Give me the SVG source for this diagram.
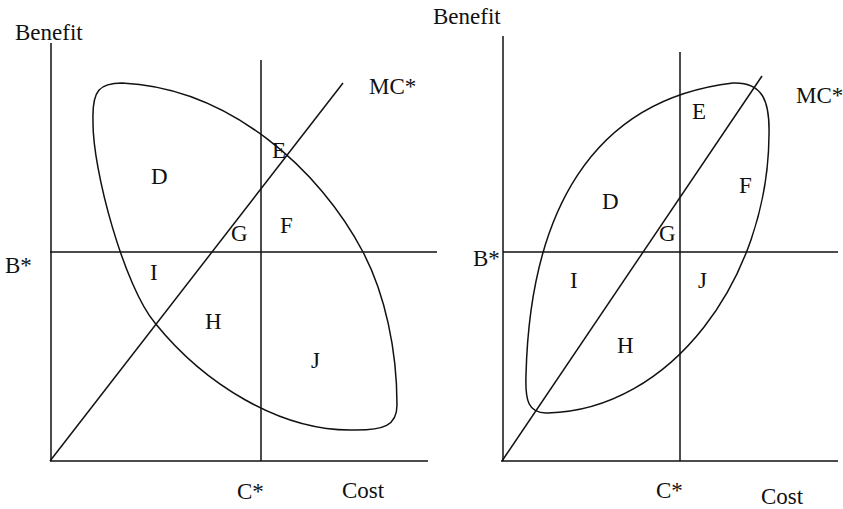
<svg xmlns="http://www.w3.org/2000/svg" width="843" height="509" viewBox="0 0 843 509">
<style>
.ln{stroke:#111;stroke-width:1.5;fill:none}
.t{font-family:"Liberation Serif","Times New Roman",serif;font-size:23px;fill:#111}
</style>
<rect width="843" height="509" fill="#fff"/>
<g id="left-panel">
<g id="left-axes">
<line class="ln" x1="51" y1="43" x2="51" y2="461"/>
<line class="ln" x1="50" y1="461" x2="428" y2="461"/>
<line class="ln" x1="50" y1="252" x2="437" y2="252"/>
<line class="ln" x1="261" y1="60" x2="261" y2="461"/>
<line class="ln" x1="50" y1="461" x2="343" y2="83"/>
</g>
<path id="left-region" class="ln" d="M122,83 C230,88 320,170 363,252 C385,294 397,350 397,405 C397,425 385,431 350,430 C280,430 205,385 155,323 C125,288 92,170 93,120 C92,90 100,83 122,83 Z"/>
<g id="left-labels">
<text class="t" x="15" y="40">Benefit</text>
<text class="t" x="369" y="94">MC*</text>
<text class="t" x="5" y="273">B*</text>
<text class="t" x="237" y="499">C*</text>
<text class="t" x="342" y="498">Cost</text>
<text class="t" x="151" y="184">D</text>
<text class="t" x="272" y="158">E</text>
<text class="t" x="280" y="233">F</text>
<text class="t" x="231" y="241">G</text>
<text class="t" x="150" y="280">I</text>
<text class="t" x="205" y="329">H</text>
<text class="t" x="311" y="368">J</text>
</g>
</g>
<g id="right-panel">
<g id="right-axes">
<line class="ln" x1="503" y1="36" x2="503" y2="461"/>
<line class="ln" x1="501" y1="461" x2="838" y2="461"/>
<line class="ln" x1="503" y1="252" x2="838" y2="252"/>
<line class="ln" x1="680" y1="52" x2="680" y2="461"/>
<line class="ln" x1="502" y1="461" x2="762" y2="76"/>
</g>
<path id="right-region" class="ln" d="M733,83 C762,82 770,100 769,135 C768,280 670,410 548,413 C528,414 525,400 526,375 C530,215 590,100 733,83 Z"/>
<g id="right-labels">
<text class="t" x="433" y="24">Benefit</text>
<text class="t" x="796" y="103">MC*</text>
<text class="t" x="473" y="266">B*</text>
<text class="t" x="656" y="498">C*</text>
<text class="t" x="761" y="504">Cost</text>
<text class="t" x="602" y="209">D</text>
<text class="t" x="692" y="119">E</text>
<text class="t" x="739" y="193">F</text>
<text class="t" x="659" y="241">G</text>
<text class="t" x="570" y="288">I</text>
<text class="t" x="698" y="288">J</text>
<text class="t" x="617" y="353">H</text>
</g>
</g>
</svg>
